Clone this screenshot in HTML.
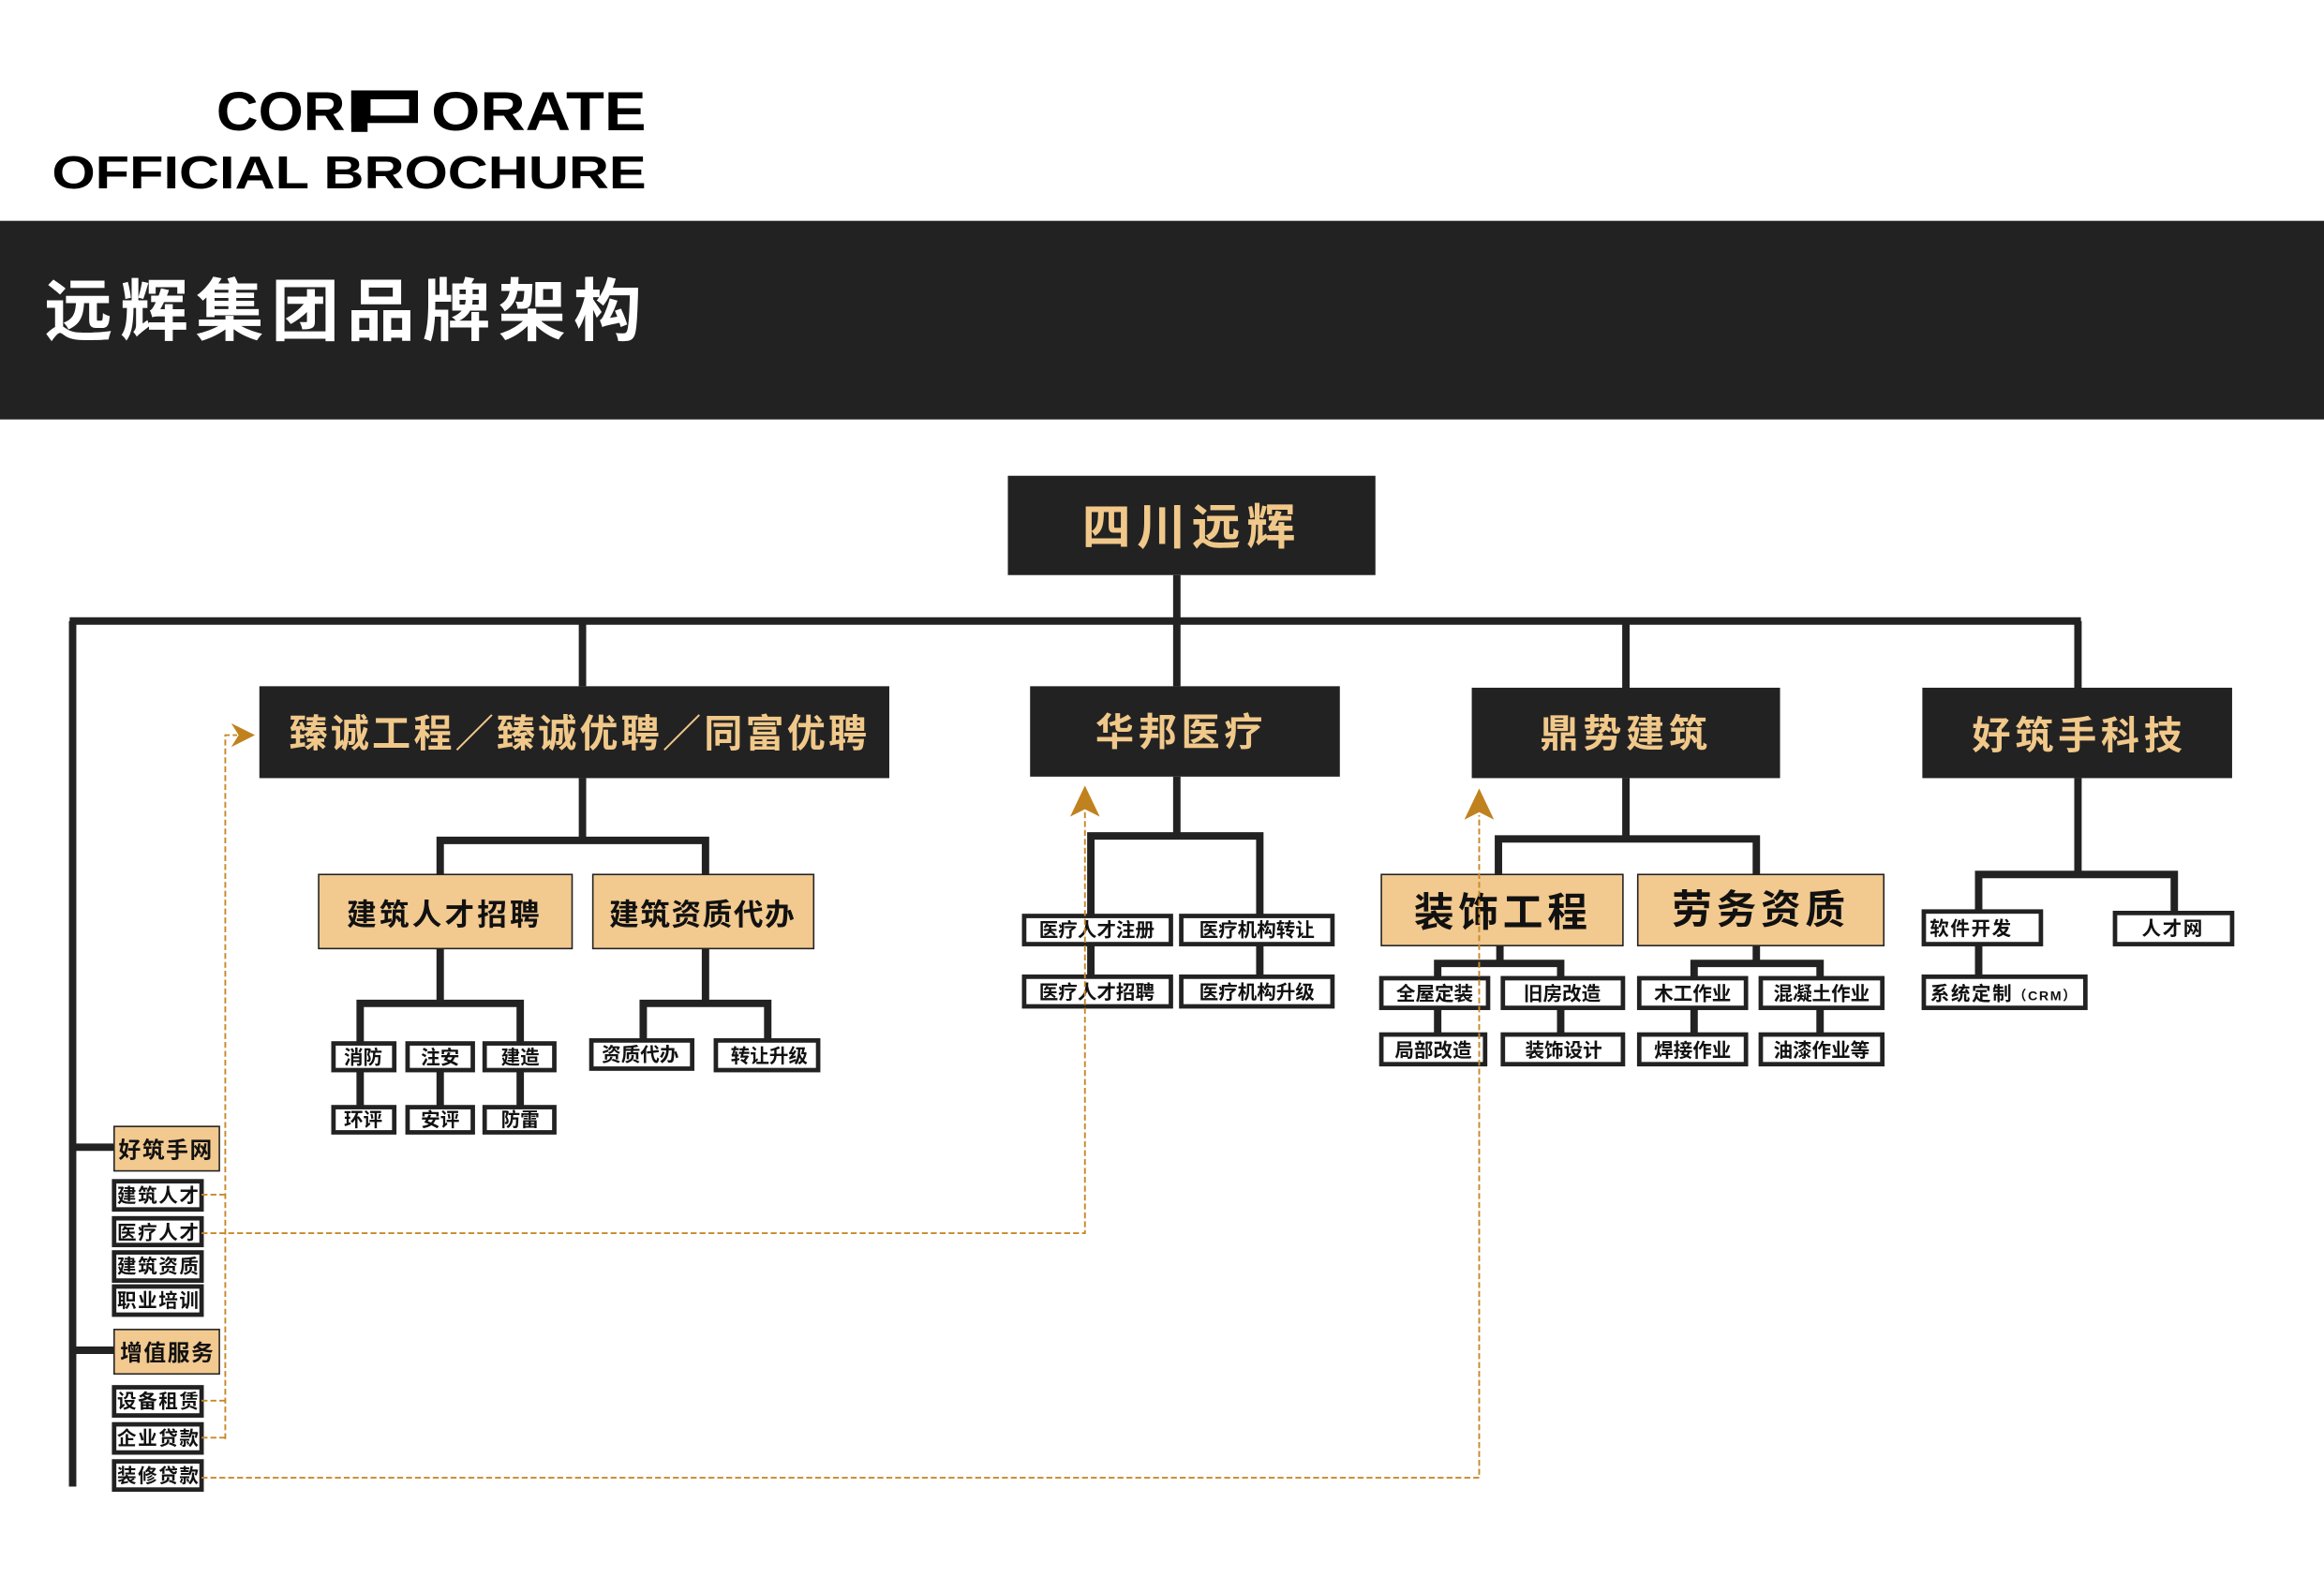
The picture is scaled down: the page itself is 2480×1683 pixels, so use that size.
<!DOCTYPE html>
<html><head><meta charset="utf-8"><style>
html,body{margin:0;padding:0;background:#fff;}
svg{display:block;}
text{font-family:"Liberation Sans","Noto Sans CJK SC",sans-serif;font-weight:bold;}
</style></head><body>
<svg width="2480" height="1683" viewBox="0 0 1568 1064" preserveAspectRatio="none" xmlns="http://www.w3.org/2000/svg">
<rect width="1568" height="1064" fill="#fff"/>
<!-- header -->
<text x="146" y="88" font-size="37" fill="#000" textLength="87" lengthAdjust="spacingAndGlyphs">COR</text>
<rect x="237" y="61" width="45" height="22" fill="#000"/>
<rect x="237" y="61" width="11" height="28" fill="#000"/>
<rect x="250" y="67" width="26" height="11" fill="#fff"/>
<text x="291" y="88" font-size="37" fill="#000" textLength="145" lengthAdjust="spacingAndGlyphs">ORATE</text>
<text x="35" y="127" font-size="31" fill="#000" textLength="401" lengthAdjust="spacingAndGlyphs">OFFICIAL BROCHURE</text>
<rect x="0" y="149" width="1568" height="134" fill="#222"/>
<text x="30" y="226" font-size="46" fill="#fff" letter-spacing="5">远辉集团品牌架构</text>

<g stroke="#222" stroke-width="5" fill="none">
<path d="M794 388V420M47 419H1404M49 419V1003M393 419V463M794 419V463M1097 419V464M1402 419V464"/>
<path d="M393 525V567M297 590V567H476V590M297 640V677M243 705V677H351V705M243 722V747M297 722V747M351 722V747M476 640V677M434 702V677H518V702"/>
<path d="M794 524V564M736 618V564H850V618M736 637V659M850 637V659"/>
<path d="M1097 525V566M1011 590V566H1185V590M1012 638V650M970 660V650H1053V660M970 680V698M1053 680V698M1185 638V650M1143 660V650H1228V660M1143 680V698M1228 680V698"/>
<path d="M1402 525V590M1335 615V590H1467V616M1335 637V659"/>
<path d="M49 774H77M49 911H77"/>
</g>

<!-- dark boxes -->
<g fill="#222">
<rect x="680" y="321" width="248" height="67"/>
<rect x="175" y="463" width="425" height="62"/>
<rect x="695" y="463" width="209" height="61"/>
<rect x="993" y="464" width="208" height="61"/>
<rect x="1297" y="464" width="209" height="61"/>
</g>
<g fill="#f0c88a" text-anchor="middle">
<text x="804" y="367" font-size="33" letter-spacing="4">四川远辉</text>
<text x="391" y="504" font-size="26" letter-spacing="2">臻诚工程／臻诚优聘／同富优聘</text>
<text x="797" y="503" font-size="26" letter-spacing="3">华邦医疗</text>
<text x="1097" y="504" font-size="26" letter-spacing="3">鼎势建筑</text>
<text x="1403" y="505" font-size="26" letter-spacing="3">好筑手科技</text>
</g>

<!-- beige boxes -->
<g fill="#f2c98f" stroke="#222" stroke-width="1">
<rect x="215" y="590" width="171" height="50"/>
<rect x="400" y="590" width="149" height="50"/>
<rect x="932" y="590" width="163" height="48"/>
<rect x="1105" y="590" width="166" height="48"/>
<rect x="77" y="760" width="71" height="30"/>
<rect x="77" y="897" width="71" height="30"/>
</g>
<g fill="#111" text-anchor="middle">
<text x="300" y="624" font-size="20" letter-spacing="2">建筑人才招聘</text>
<text x="474" y="624" font-size="20" letter-spacing="1">建筑资质代办</text>
<text x="1014" y="625" font-size="27" letter-spacing="3">装饰工程</text>
<text x="1188" y="623" font-size="27" letter-spacing="3">劳务资质</text>
<text x="112" y="781" font-size="15" letter-spacing="1">好筑手网</text>
<text x="113" y="918" font-size="15" letter-spacing="1">增值服务</text>
</g>

<!-- small boxes -->
<g fill="#fff" stroke="#222" stroke-width="3">
<rect x="225" y="704" width="41" height="18"/><rect x="275" y="704" width="44" height="18"/><rect x="327" y="704" width="47" height="18"/>
<rect x="225" y="747" width="41" height="17"/><rect x="275" y="747" width="44" height="17"/><rect x="327" y="747" width="47" height="17"/>
<rect x="399" y="702" width="68" height="19"/><rect x="483" y="702" width="69" height="20"/>
<rect x="691" y="618" width="99" height="19"/><rect x="797" y="618" width="102" height="19"/>
<rect x="691" y="659" width="99" height="20"/><rect x="797" y="659" width="102" height="20"/>
<rect x="932" y="660" width="72" height="20"/><rect x="1014" y="660" width="81" height="20"/>
<rect x="932" y="698" width="70" height="20"/><rect x="1014" y="698" width="81" height="20"/>
<rect x="1106" y="660" width="72" height="20"/><rect x="1188" y="660" width="82" height="20"/>
<rect x="1106" y="698" width="72" height="20"/><rect x="1188" y="698" width="82" height="20"/>
<rect x="1298" y="615" width="79" height="22"/><rect x="1427" y="616" width="79" height="21"/>
<rect x="1298" y="659" width="109" height="21"/>
<rect x="77" y="797" width="59" height="19"/><rect x="77" y="822" width="59" height="18"/>
<rect x="77" y="845" width="59" height="19"/><rect x="77" y="868" width="59" height="19"/>
<rect x="77" y="936" width="59" height="19"/><rect x="77" y="961" width="59" height="19"/>
<rect x="77" y="986" width="59" height="19"/>
</g>
<g fill="#111" font-size="13" text-anchor="middle">
<text x="245" y="718">消防</text><text x="297" y="718">注安</text><text x="351" y="718">建造</text>
<text x="245" y="760">环评</text><text x="297" y="760">安评</text><text x="351" y="760">防雷</text>
<text x="432" y="716">资质代办</text><text x="519" y="717">转让升级</text>
<text x="740" y="632">医疗人才注册</text><text x="848" y="632">医疗机构转让</text>
<text x="740" y="674">医疗人才招聘</text><text x="848" y="674">医疗机构升级</text>
<text x="968" y="675">全屋定装</text><text x="1054" y="675">旧房改造</text>
<text x="967" y="713">局部改造</text><text x="1055" y="713">装饰设计</text>
<text x="1142" y="675">木工作业</text><text x="1229" y="675">混凝土作业</text>
<text x="1142" y="713">焊接作业</text><text x="1229" y="713">油漆作业等</text>
<text x="1330" y="631" letter-spacing="1">软件开发</text><text x="1466" y="631" letter-spacing="1">人才网</text>
<text x="1352" y="675" letter-spacing="1">系统定制<tspan font-size="9">（CRM）</tspan></text>
<text x="107" y="811" letter-spacing="1">建筑人才</text><text x="107" y="836" letter-spacing="1">医疗人才</text>
<text x="107" y="859" letter-spacing="1">建筑资质</text><text x="107" y="882" letter-spacing="1">职业培训</text>
<text x="107" y="950" letter-spacing="1">设备租赁</text><text x="107" y="975" letter-spacing="1">企业贷款</text>
<text x="107" y="1000" letter-spacing="1">装修贷款</text>
</g>

<!-- dashed connectors -->
<g stroke="#c8892a" stroke-width="1.2" fill="none" stroke-dasharray="4,2">
<path d="M152 971V496H160M136 806H152M136 945H152M136 970H152"/>
<path d="M136 832H732V548"/>
<path d="M136 997H998V550"/>
</g>
<g fill="#c0821e">
<path d="M156 488L172 496L156 504L161 496Z"/>
<path d="M722 551L732 530L742 551L732 546Z"/>
<path d="M988 553L998 532L1008 553L998 548Z"/>
</g>
</svg>
</body></html>
